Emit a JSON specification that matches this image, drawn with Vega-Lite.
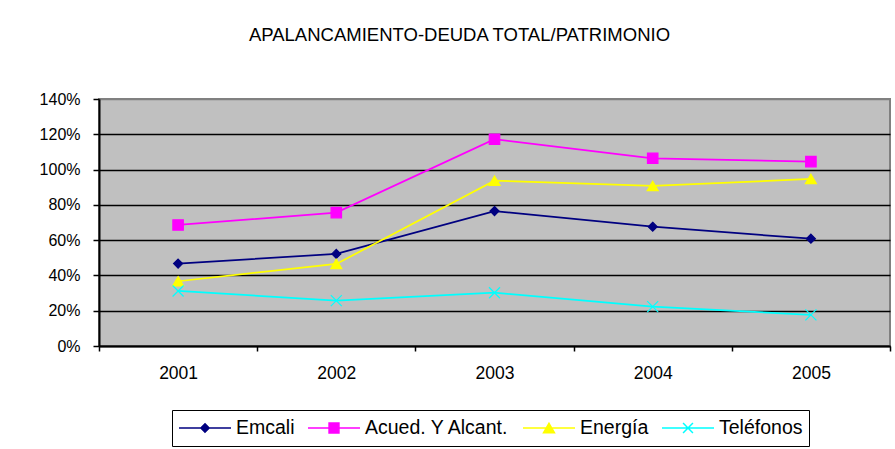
{
  "$schema": "https://vega.github.io/schema/vega-lite/v6.json",
  "width": 791,
  "height": 247,
  "autosize": {"type": "none"},
  "padding": {"left": 99, "top": 99, "right": 5, "bottom": 103},
  "background": "white",
  "title": {
    "text": "APALANCAMIENTO-DEUDA TOTAL/PATRIMONIO",
    "anchor": "middle",
    "frame": "group",
    "font": "Liberation Sans",
    "fontSize": 18.5,
    "fontWeight": "normal",
    "color": "black",
    "baseline": "alphabetic",
    "offset": 32,
    "dx": -35
  },
  "data": {
    "values": [
      {"anio": "2001", "serie": "Emcali", "valor": 0.467},
      {"anio": "2002", "serie": "Emcali", "valor": 0.522},
      {"anio": "2003", "serie": "Emcali", "valor": 0.765},
      {"anio": "2004", "serie": "Emcali", "valor": 0.676},
      {"anio": "2005", "serie": "Emcali", "valor": 0.608},
      {"anio": "2001", "serie": "Acued. Y Alcant.", "valor": 0.686},
      {"anio": "2002", "serie": "Acued. Y Alcant.", "valor": 0.756},
      {"anio": "2003", "serie": "Acued. Y Alcant.", "valor": 1.172},
      {"anio": "2004", "serie": "Acued. Y Alcant.", "valor": 1.064},
      {"anio": "2005", "serie": "Acued. Y Alcant.", "valor": 1.045},
      {"anio": "2001", "serie": "Energía", "valor": 0.367},
      {"anio": "2002", "serie": "Energía", "valor": 0.465},
      {"anio": "2003", "serie": "Energía", "valor": 0.937},
      {"anio": "2004", "serie": "Energía", "valor": 0.907},
      {"anio": "2005", "serie": "Energía", "valor": 0.947},
      {"anio": "2001", "serie": "Teléfonos", "valor": 0.312},
      {"anio": "2002", "serie": "Teléfonos", "valor": 0.257},
      {"anio": "2003", "serie": "Teléfonos", "valor": 0.302},
      {"anio": "2004", "serie": "Teléfonos", "valor": 0.223},
      {"anio": "2005", "serie": "Teléfonos", "valor": 0.176}
    ]
  },
  "encoding": {
    "x": {
      "field": "anio",
      "type": "ordinal",
      "scale": {"type": "band", "paddingInner": 0, "paddingOuter": 0},
      "axis": {
        "title": null,
        "labelAngle": 0,
        "labelFont": "Liberation Sans",
        "labelFontSize": 17.5,
        "labelColor": "black",
        "labelPadding": 13,
        "labelBaseline": "top",
        "tickBand": "extent",
        "tickSize": 5,
        "tickColor": "black",
        "tickWidth": 1.5,
        "domainColor": "black",
        "domainWidth": 2,
        "grid": false
      }
    },
    "y": {
      "field": "valor",
      "type": "quantitative",
      "scale": {"domain": [0, 1.4], "nice": false},
      "axis": {
        "title": null,
        "values": [0, 0.2, 0.4, 0.6, 0.8, 1.0, 1.2, 1.4],
        "format": ".0%",
        "labelFont": "Liberation Sans",
        "labelFontSize": 16,
        "labelColor": "black",
        "labelPadding": 13,
        "tickSize": 6,
        "tickColor": "black",
        "tickWidth": 1.5,
        "domainColor": "black",
        "domainWidth": 2,
        "grid": true,
        "gridColor": {"condition": {"test": "datum.value > 1.3", "value": "#808080"}, "value": "black"},
        "gridWidth": 1.5
      }
    }
  },
  "layer": [
    {
      "mark": {"type": "line", "strokeWidth": 1.75},
      "encoding": {
        "color": {
          "field": "serie",
          "type": "nominal",
          "scale": {
            "domain": ["Emcali", "Acued. Y Alcant.", "Energía", "Teléfonos"],
            "range": ["#000080", "#ff00ff", "#ffff00", "#00ffff"]
          },
          "legend": null
        }
      }
    },
    {
      "mark": {"type": "point", "filled": true, "opacity": 1, "size": 121, "strokeWidth": 1.2},
      "encoding": {
        "fill": {
          "field": "serie",
          "type": "nominal",
          "scale": {
            "domain": ["Emcali", "Acued. Y Alcant.", "Energía", "Teléfonos"],
            "range": ["#000080", "#ff00ff", "#ffff00", "#00ffff"]
          },
          "legend": null
        },
        "stroke": {
          "field": "serie",
          "type": "nominal",
          "scale": {
            "domain": ["Emcali", "Acued. Y Alcant.", "Energía", "Teléfonos"],
            "range": ["#000080", "#ff00ff", "#ffff00", "#00ffff"]
          },
          "legend": null
        },
        "shape": {
          "field": "serie",
          "type": "nominal",
          "scale": {
            "domain": ["Emcali", "Acued. Y Alcant.", "Energía", "Teléfonos"],
            "range": [
              "M0,-0.82L0.82,0L0,0.82L-0.82,0Z",
              "M-0.95,-0.95H0.95V0.95H-0.95Z",
              "M0,-0.85L1,0.85L-1,0.85Z",
              "M-1,-1L1,1M-1,1L1,-1"
            ]
          },
          "legend": null
        }
      }
    },
    {
      "transform": [{"filter": "false"}],
      "mark": {"type": "point", "filled": true, "opacity": 1, "strokeWidth": 1.5},
      "encoding": {
        "fill": {
          "field": "serie",
          "type": "nominal",
          "scale": {
            "domain": ["Emcali", "Acued. Y Alcant.", "Energía", "Teléfonos"],
            "range": ["#000080", "#ff00ff", "#ffff00", "#00ffff"]
          },
          "legend": {"title": null}
        },
        "stroke": {
          "field": "serie",
          "type": "nominal",
          "scale": {
            "domain": ["Emcali", "Acued. Y Alcant.", "Energía", "Teléfonos"],
            "range": ["#000080", "#ff00ff", "#ffff00", "#00ffff"]
          },
          "legend": {"title": null}
        },
        "shape": {
          "field": "serie",
          "type": "nominal",
          "scale": {
            "domain": ["Emcali", "Acued. Y Alcant.", "Energía", "Teléfonos"],
            "range": [
              "M-1,0H1M0,-0.16L0.16,0L0,0.16L-0.16,0Z",
              "M-1,0H1M-0.19,-0.19H0.19V0.19H-0.19Z",
              "M-1,0H1M0,-0.18L0.21,0.18L-0.21,0.18Z",
              "M-1,0H1M-0.19,-0.19L0.19,0.19M-0.19,0.19L0.19,-0.19"
            ]
          },
          "legend": {"title": null}
        }
      }
    }
  ],
  "resolve": {"scale": {"fill": "independent", "stroke": "independent", "shape": "independent"}},
  "config": {
    "font": "Liberation Sans",
    "view": {"fill": "#c0c0c0", "stroke": "#808080", "strokeWidth": 2},
    "legend": {
      "orient": "none",
      "legendX": 73,
      "legendY": 311,
      "direction": "horizontal",
      "padding": 6,
      "strokeColor": "black",
      "fillColor": "white",
      "symbolSize": 2704,
      "symbolStrokeWidth": 1.5,
      "symbolOpacity": 1,
      "clipHeight": 24,
      "labelOffset": 4,
      "columnPadding": 12,
      "labelFont": "Liberation Sans",
      "labelFontSize": 19.5,
      "labelColor": "black",
      "labelLimit": 0
    }
  }
}
